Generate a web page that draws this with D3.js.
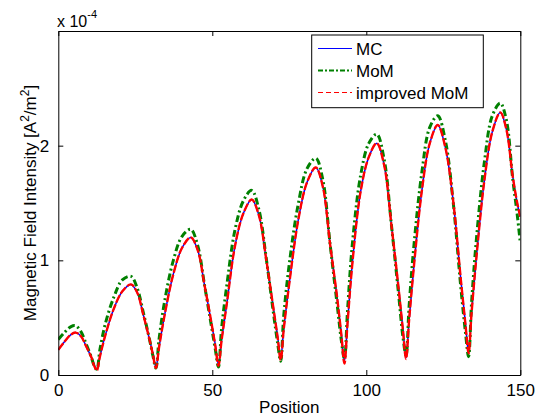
<!DOCTYPE html>
<meta charset="utf-8">
<style>
body { margin: 0; background: #fff; }
svg { font-family: "Liberation Sans", Arial, sans-serif; }
.axis path, .axis line { stroke: #000; }
.axis text { font-size: 17px; fill: #000; }
.curve { fill: none; }
</style>
<body>
<script src="https://d3js.org/d3.v7.min.js"></script>
<script>

// sample positions
var position = [0, 2, 4, 5.6, 7.3, 9.05, 10.8, 11.5, 12.5,
  13.5, 15.3, 18.05, 20.8, 23.6, 25.6, 27.65, 29.7, 30.7, 31.7,
  32.7, 34.5, 37.35, 40.2, 43, 45.25, 47.5, 49.75, 51, 52,
  53, 54.7, 57.4, 60.1, 62.8, 65.15, 67.5, 69.85, 71.2, 72.2,
  73.2, 75.05, 77.9, 80.75, 83.6, 85.9, 88.25, 90.6, 91.9, 92.9,
  93.9, 95.5, 98.15, 100.8, 103.4, 105.8, 108.15, 110.5, 111.9, 112.9,
  113.9, 115.5, 118.05, 120.6, 123.2, 125.7, 128.2, 130.7, 132.2, 133.2,
  134.2, 135.8, 138.35, 140.9, 143.5, 145.5, 147.5, 149, 150];

// intensities in units of 1e-4 A^2/m^2
var mc = [0.22, 0.29, 0.35, 0.37, 0.34, 0.25, 0.15, 0.10, 0.05,
  0.16, 0.35, 0.58, 0.73, 0.79, 0.72, 0.52, 0.30, 0.19, 0.07,
  0.24, 0.52, 0.88, 1.11, 1.20, 1.09, 0.78, 0.45, 0.26, 0.09,
  0.30, 0.62, 1.13, 1.41, 1.53, 1.39, 1.01, 0.58, 0.34, 0.15,
  0.40, 0.81, 1.35, 1.68, 1.81, 1.64, 1.14, 0.66, 0.36, 0.12,
  0.45, 0.98, 1.60, 1.90, 2.02, 1.83, 1.31, 0.75, 0.40, 0.15,
  0.48, 0.96, 1.61, 2.02, 2.18, 1.98, 1.52, 0.83, 0.45, 0.20,
  0.55, 1.04, 1.70, 2.12, 2.29, 2.14, 1.74, 1.50, 1.38];

var mom = [0.31, 0.37, 0.42, 0.43, 0.38, 0.27, 0.15, 0.09, 0.05,
  0.22, 0.45, 0.68, 0.83, 0.86, 0.76, 0.54, 0.30, 0.17, 0.06,
  0.31, 0.64, 1.00, 1.21, 1.27, 1.13, 0.78, 0.42, 0.22, 0.07,
  0.40, 0.78, 1.27, 1.52, 1.61, 1.44, 1.02, 0.54, 0.28, 0.12,
  0.52, 0.98, 1.49, 1.80, 1.89, 1.70, 1.14, 0.60, 0.30, 0.14,
  0.56, 1.15, 1.74, 2.02, 2.10, 1.88, 1.31, 0.70, 0.33, 0.17,
  0.60, 1.14, 1.77, 2.16, 2.26, 2.04, 1.51, 0.76, 0.37, 0.16,
  0.64, 1.20, 1.86, 2.26, 2.37, 2.22, 1.72, 1.40, 1.15];

var improvedMom = [0.22, 0.29, 0.35, 0.37, 0.34, 0.25, 0.15, 0.09, 0.04,
  0.16, 0.35, 0.58, 0.73, 0.79, 0.72, 0.52, 0.30, 0.18, 0.06,
  0.24, 0.52, 0.88, 1.11, 1.20, 1.09, 0.78, 0.45, 0.25, 0.08,
  0.30, 0.62, 1.13, 1.41, 1.53, 1.39, 1.01, 0.58, 0.33, 0.13,
  0.40, 0.81, 1.35, 1.68, 1.81, 1.64, 1.14, 0.66, 0.35, 0.10,
  0.45, 0.98, 1.60, 1.90, 2.02, 1.83, 1.31, 0.75, 0.39, 0.14,
  0.48, 0.96, 1.61, 2.02, 2.18, 1.98, 1.52, 0.83, 0.44, 0.19,
  0.55, 1.04, 1.70, 2.12, 2.29, 2.14, 1.74, 1.50, 1.38];

var seriesNames = ["MC", "MoM", "improved MoM"];
var xTicks = [0, 50, 100, 150];
var yTicks = [0, 1, 2];

var width = 542, height = 417;
var plot = {left: 58.3, top: 31, right: 520.3, bottom: 375};

var svg = d3.select("body").append("svg")
  .attr("width", width)
  .attr("height", height);

var x = d3.scaleLinear().domain([0, 150]).range([plot.left, plot.right]);
var y = d3.scaleLinear().domain([0, 3]).range([plot.bottom, plot.top]);

// series styles, MATLAB-like
var styles = [
  {color: "#0000ff", width: 1.5, dash: null},
  {color: "#008000", width: 3, dash: "7,3,2,3"},
  {color: "#ff0000", width: 2.4, dash: "8,2"}
];
var series = [mc, mom, improvedMom].map(function(vals, i) {
  return {name: seriesNames[i], style: styles[i],
    points: position.map(function(p, j) { return [p, vals[j]]; })};
});

svg.append("rect")
  .attr("x", plot.left).attr("y", plot.top)
  .attr("width", plot.right - plot.left).attr("height", plot.bottom - plot.top)
  .attr("fill", "#fff");

svg.append("clipPath").attr("id", "clip").append("rect")
  .attr("x", plot.left).attr("y", plot.top)
  .attr("width", plot.right - plot.left).attr("height", plot.bottom - plot.top);

var line = d3.line()
  .x(function(d) { return x(d[0]); })
  .y(function(d) { return y(d[1]); })
  .curve(d3.curveCatmullRom.alpha(0.5));

svg.append("g").attr("clip-path", "url(#clip)")
  .selectAll("path")
  .data(series)
  .enter().append("path")
    .attr("class", "curve")
    .attr("stroke", function(d) { return d.style.color; })
    .attr("stroke-width", function(d) { return d.style.width; })
    .attr("stroke-dasharray", function(d) { return d.style.dash; })
    .attr("d", function(d) { return line(d.points); });

// axes with inward ticks on all four sides
svg.append("g").attr("class", "axis")
  .attr("transform", "translate(0," + plot.bottom + ")")
  .call(d3.axisBottom(x).tickValues(xTicks).tickFormat(d3.format("d"))
    .tickSizeInner(-5).tickSizeOuter(0).tickPadding(9));
svg.append("g").attr("class", "axis")
  .attr("transform", "translate(0," + plot.top + ")")
  .call(d3.axisTop(x).tickValues(xTicks).tickSizeInner(-5).tickSizeOuter(0).tickFormat(""));
svg.append("g").attr("class", "axis")
  .attr("transform", "translate(" + plot.left + ",0)")
  .call(d3.axisLeft(y).tickValues(yTicks).tickFormat(d3.format("d"))
    .tickSizeInner(-5).tickSizeOuter(0).tickPadding(9));
svg.append("g").attr("class", "axis")
  .attr("transform", "translate(" + plot.right + ",0)")
  .call(d3.axisRight(y).tickValues(yTicks).tickSizeInner(-5).tickSizeOuter(0).tickFormat(""));

svg.selectAll(".axis .domain").attr("stroke-width", 1);

// exponent label
var expo = svg.append("text")
  .attr("x", 57).attr("y", 27)
  .attr("font-size", 16);
expo.append("tspan").text("x 10");
expo.append("tspan").attr("dy", -9).attr("font-size", 11).text("-4");

// axis titles
svg.append("text")
  .attr("x", (plot.left + plot.right) / 2).attr("y", 413)
  .attr("text-anchor", "middle")
  .attr("font-size", 17)
  .text("Position");

var ylab = svg.append("text")
  .attr("transform", "translate(36," + (plot.top + plot.bottom) / 2 + ") rotate(-90)")
  .attr("text-anchor", "middle")
  .attr("font-size", 17);
ylab.append("tspan").text("Magnetic Field Intensity [A");
ylab.append("tspan").attr("dy", -7).attr("font-size", 12).text("2");
ylab.append("tspan").attr("dy", 7).text("/m");
ylab.append("tspan").attr("dy", -7).attr("font-size", 12).text("2");
ylab.append("tspan").attr("dy", 7).text("]");

// legend
var legend = svg.append("g");
legend.append("rect")
  .attr("x", 311.7).attr("y", 35)
  .attr("width", 171.6).attr("height", 72.7)
  .attr("fill", "#fff").attr("stroke", "#000").attr("stroke-width", 1);

var rows = legend.selectAll(".row")
  .data(series)
  .enter().append("g")
    .attr("class", "row")
    .attr("transform", function(d, i) { return "translate(318," + (48.5 + i * 22) + ")"; });

rows.append("line")
  .attr("x1", 0).attr("x2", 34)
  .attr("stroke", function(d) { return d.style.color; })
  .attr("stroke-width", function(d, i) { return i === 1 ? 2 : 1.2; })
  .attr("stroke-dasharray", function(d, i) { return i === 1 ? "5,2,2,2" : (i === 2 ? "5,3" : null); });

rows.append("text")
  .attr("x", 38).attr("dy", "0.36em")
  .attr("font-size", 17)
  .text(function(d) { return d.name; });

</script>
</body>
